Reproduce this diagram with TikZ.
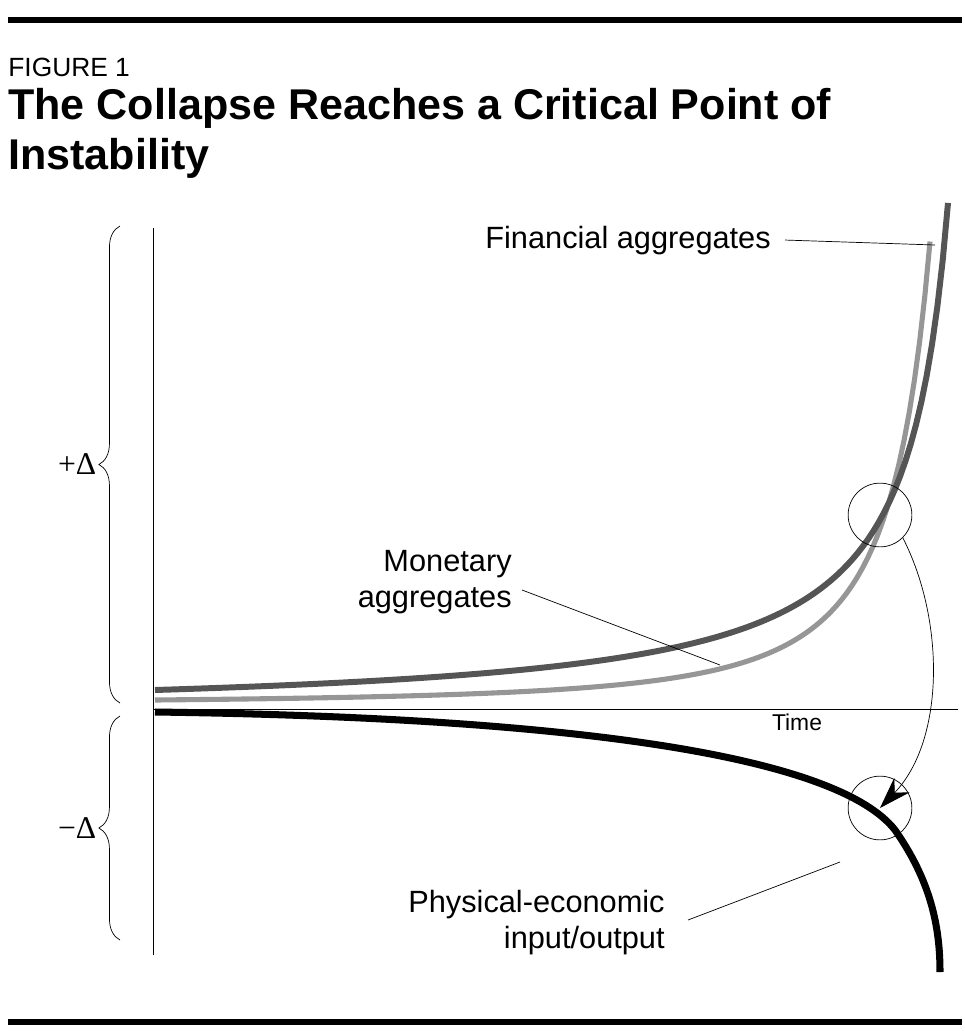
\documentclass[tikz,border=0pt]{standalone}
\usepackage{fontspec}
\setmainfont{Liberation Sans}
\newfontfamily\deltafont{Liberation Serif}
\usetikzlibrary{arrows.meta,decorations.pathreplacing}
\definecolor{darkline}{RGB}{85,85,85}
\definecolor{lightline}{RGB}{150,150,150}
\tikzset{
  label text/.style={font=\fontsize{17.5}{20.5}\selectfont, inner sep=0pt},
  leader/.style={thin, black},
  brace/.style={decorate, decoration={brace, amplitude=12pt}, thin}
}
\begin{document}
\begin{tikzpicture}[x=0.02cm,y=-0.02cm]
\useasboundingbox (0,0) rectangle (964,1031);

\draw [line width=3.5pt] (8,20) -- (962,20);
\draw [line width=3.5pt] (8,1022) -- (962,1022);

\node (fig) [anchor=base west, inner sep=0pt, font=\fontsize{15}{17}\selectfont] at (8,76) {FIGURE 1};
\node (title) [anchor=north west, inner sep=0pt, align=left, font=\fontsize{24.5}{28.5}\bfseries] at (8,88)
  {The Collapse Reaches a Critical Point of\\Instability};

% axes
\draw [thin] (153,228) -- (153,955);
\draw [thin] (153,709) -- (958,709);
\node (time) [anchor=base, inner sep=0pt, font=\fontsize{13}{15}\selectfont] at (797,730) {Time};

% braces
\draw [brace] (120,703) -- (120,226) node (plus) [midway, left=10pt, font=\deltafont\fontsize{18}{20}\selectfont] {+Δ};
\draw [brace] (120,940) -- (120,716) node (minus) [midway, left=10pt, font=\deltafont\fontsize{18}{20}\selectfont] {−Δ};

% curves
\draw [lightline, line width=2.9pt, domain=155:930, samples=150]
  plot (\x,{700-296/(((1010-\x)/100)^2)+296/73.1});
\draw [darkline, line width=3.4pt, domain=155:948, samples=150]
  plot (\x,{690-215.4/((990-\x)/100)+215.4/8.35});
\draw [black, line width=4pt] (155,712) .. controls (600,718) and (840,760) .. (895,830)
  .. controls (930,880) and (940,925) .. (940,972);

% circles and jump
\node (upper) [circle, draw, thin, minimum size=64pt*0.567] at (880,515) {};
\node (lower) [circle, draw, thin, minimum size=64pt*0.567] at (880,808) {};
\draw [thin, -{Stealth[length=18pt,width=12pt]}] (upper.south east) .. controls (945,620) and (945,740) .. (lower.center);

% labels
\node (fin) [label text, anchor=base west] at (485,248) {Financial aggregates};
\coordinate (finend) at (935,245);
\draw [leader] (fin.east) ++(8pt,0) -- (finend);
\node (mon) [label text, anchor=north east, align=right] at (512,550) {Monetary\\aggregates};
\coordinate (monend) at (720,665);
\draw [leader] (522,590) -- (monend);
\node (phys) [label text, anchor=north east, align=right] at (665,890) {Physical-economic\\input/output};
\coordinate (physend) at (840,862);
\draw [leader] (688,920) -- (physend);
\end{tikzpicture}
\end{document}
